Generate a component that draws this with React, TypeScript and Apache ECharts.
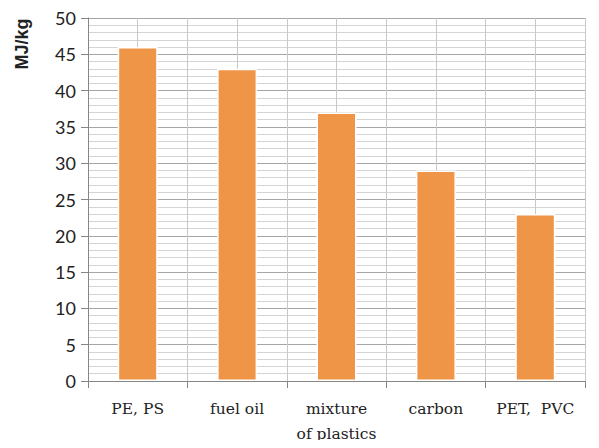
import React, { useEffect, useRef } from "react";
import * as echarts from "echarts";

const categories = ["PE, PS", "fuel oil", "mixture\nof plastics", "carbon", "PET,  PVC"];
const values = [46, 43, 37, 29, 23];
const yTicks = { min: 0, max: 50, interval: 5 };
const axisTitle = "MJ/kg";

export default function App() {
  const ref = useRef<HTMLDivElement>(null);
  useEffect(() => {
    const chart = echarts.init(ref.current!, null, { renderer: "svg" });
    chart.setOption({
      animation: false,
      grid: { left: 80, right: 6, top: 10, bottom: 67, outerBoundsMode: "none", containLabel: false },
      xAxis: [
        {
          type: "category",
          data: categories,
          boundaryGap: true,
          axisLine: { show: true, lineStyle: { color: "#868686", width: 1 } },
          axisTick: { show: true, length: 7, interval: 0, lineStyle: { color: "#868686" } },
          axisLabel: {
            interval: 0,
            margin: 15,
            fontFamily: "DejaVu Serif",
            fontSize: 15.5,
            color: "#222",
            lineHeight: 25,
          },
          splitLine: { show: true, interval: 0, lineStyle: { color: "#BFBFBF", width: 1 } },
        },
        {
          type: "value",
          min: 0,
          max: 5,
          interval: 0.5,
          show: true,
          position: "bottom",
          axisLine: { show: false },
          axisTick: { show: false },
          axisLabel: { show: false },
          splitLine: { show: true, lineStyle: { color: "#C8C8C8", width: 1 } },
        },
      ],
      yAxis: {
        type: "value",
        min: yTicks.min,
        max: yTicks.max,
        interval: yTicks.interval,
        axisLine: { show: true, lineStyle: { color: "#868686" } },
        axisTick: { show: true, length: 7, lineStyle: { color: "#868686" } },
        axisLabel: { fontFamily: "Lato", fontSize: 18, color: "#222", margin: 12 },
        splitLine: { show: true, lineStyle: { color: "#A6A6A6", width: 1 } },
        minorTick: { show: false, splitNumber: 5 },
        minorSplitLine: { show: true, lineStyle: { color: "#D4D4D4", width: 1 } },
      },
      graphic: [
        {
          type: "text",
          x: 14,
          y: 36,
          rotation: Math.PI / 2,
          style: {
            text: axisTitle,
            fontFamily: "Liberation Sans",
            fontWeight: "bold",
            fontSize: 18,
            fill: "#222",
            align: "center",
            verticalAlign: "middle",
          },
        },
      ],
      series: [
        {
          type: "bar",
          xAxisIndex: 0,
          data: values,
          barWidth: 40,
          itemStyle: { color: "#EF9548", borderColor: "#FFFFFF", borderWidth: 1.5 },
        },
      ],
    });
    return () => chart.dispose();
  }, []);
  return <div ref={ref} style={{ width: 583, height: 440, marginBottom: -8 }} />;
}
